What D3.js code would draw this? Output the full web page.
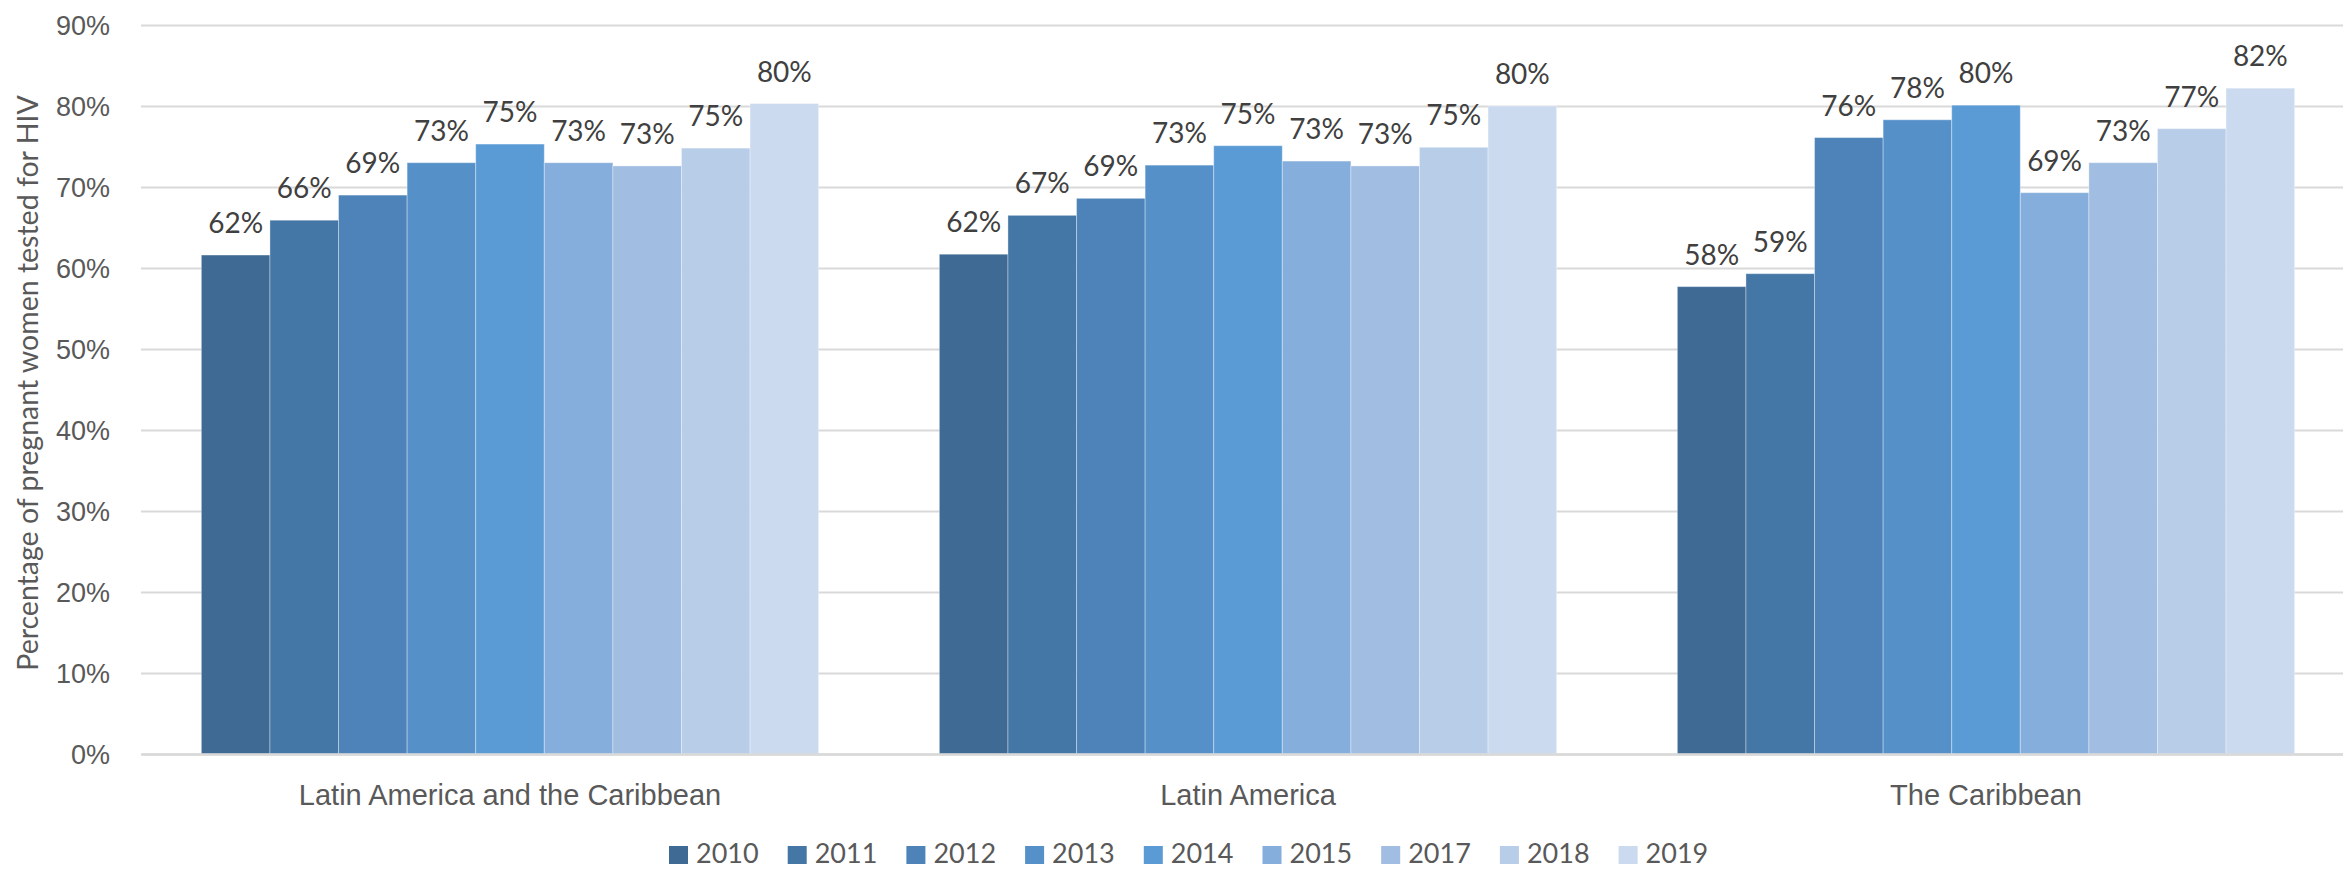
<!DOCTYPE html>
<html lang="en">
<head>
  <meta charset="UTF-8">
  <title>Pregnant women tested for HIV</title>
  <script src="https://d3js.org/d3.v7.min.js"></script>
  <style>
    body {
      margin: 0;
      background: #fff;
      font-family: Lato, "Open Sans", Arial, sans-serif;
    }

    .grid line {
      stroke: #d9d9d9;
      stroke-width: 2;
    }

    .axis text {
      fill: #595959;
      font-size: 27px;
    }

    .x-axis text {
      font-size: 29px;
    }

    .label {
      fill: #404040;
      font-size: 28px;
    }

    .legend text {
      fill: #595959;
      font-size: 27px;
    }
  </style>
</head>
<body>
  <div id="chart"></div>

  <script>
    // categories / series
    const regions = ["Latin America and the Caribbean", "Latin America", "The Caribbean"];
    const years = ["2010", "2011", "2012", "2013", "2014", "2015", "2017", "2018", "2019"];
    const colors = ["#3e6a93", "#4577a6", "#4d83b8", "#5591c8", "#5b9bd5", "#85aedc", "#a1bde2", "#b8cde8", "#cbdaee"];

    // percentage tested, one array per region, in year order
    const lacValues = [61.6, 65.9, 69.0, 73.0, 75.3, 73.0, 72.6, 74.8, 80.3];
    const laValues = [61.7, 66.5, 68.6, 72.7, 75.1, 73.2, 72.6, 74.9, 80.0];
    const carValues = [57.7, 59.3, 76.1, 78.3, 80.1, 69.3, 73.0, 77.2, 82.2];
    const values = [lacValues, laValues, carValues];

    const yTicks = [0, 10, 20, 30, 40, 50, 60, 70, 80, 90];

    const width = 2343;
    const height = 869;
    const margin = { top: 25, left: 141, bottom: 115 };
    const plotW = 2214;
    const plotBottom = height - margin.bottom;

    const data = regions.map((r, i) => ({
      region: r,
      bars: years.map((yr, j) => ({ year: yr, value: values[i][j] }))
    }));

    const svg = d3.select("#chart")
      .append("svg")
      .attr("width", width)
      .attr("height", height);

    const x0 = d3.scaleBand()
      .domain(regions)
      .range([margin.left, margin.left + plotW])
      .padding(0);

    const x1 = d3.scaleBand()
      .domain(years)
      .range([0, x0.bandwidth()])
      .paddingInner(0)
      .paddingOuter(0.88);

    const y = d3.scaleLinear()
      .domain([0, 90])
      .range([plotBottom, margin.top]);

    const color = d3.scaleOrdinal().domain(years).range(colors);
    const fmt = d => d3.format(".0%")(d / 100);

    // gridlines + y tick labels
    const yAxis = svg.append("g")
      .attr("class", "axis grid")
      .attr("transform", `translate(${margin.left},0)`)
      .call(d3.axisLeft(y)
        .tickValues(yTicks)
        .tickFormat(fmt)
        .tickSize(-plotW)
        .tickPadding(31));
    yAxis.select(".domain").remove();
    yAxis.selectAll("text").attr("dy", "0.36em");

    // bars
    const group = svg.selectAll(".region")
      .data(data)
      .enter().append("g")
      .attr("class", "region")
      .attr("transform", d => `translate(${x0(d.region)},0)`);

    group.selectAll("rect")
      .data(d => d.bars)
      .enter().append("rect")
      .attr("x", d => x1(d.year))
      .attr("y", d => y(d.value))
      .attr("width", x1.bandwidth())
      .attr("height", d => plotBottom - y(d.value))
      .attr("fill", d => color(d.year))
      .attr("stroke", "#fff")
      .attr("stroke-opacity", 0.35)
      .attr("stroke-width", 1);

    group.selectAll(".label")
      .data(d => d.bars)
      .enter().append("text")
      .attr("class", "label")
      .attr("x", d => x1(d.year) + x1.bandwidth() / 2)
      .attr("y", d => y(d.value) - 22)
      .attr("text-anchor", "middle")
      .text(d => fmt(Math.round(d.value)));

    // x axis
    const xAxis = svg.append("g")
      .attr("class", "axis x-axis")
      .attr("transform", `translate(0,${plotBottom})`)
      .call(d3.axisBottom(x0).tickSize(0).tickPadding(30));
    xAxis.select(".domain")
      .attr("stroke", "#d9d9d9")
      .attr("stroke-width", 2.5);

    // y axis title
    svg.append("text")
      .attr("transform", "rotate(-90)")
      .attr("x", -383)
      .attr("y", 38)
      .attr("text-anchor", "middle")
      .style("fill", "#595959")
      .style("font-size", "28.5px")
      .text("Percentage of pregnant women tested for HIV");

    // legend
    const legend = svg.append("g")
      .attr("class", "legend")
      .selectAll("g")
      .data(years)
      .enter().append("g")
      .attr("transform", (d, i) => `translate(${669 + i * 118.7},846)`);

    legend.append("rect")
      .attr("width", 19)
      .attr("height", 18)
      .attr("fill", d => color(d));

    legend.append("text")
      .attr("x", 27)
      .attr("y", 17)
      .text(d => d);
  </script>
</body>
</html>
